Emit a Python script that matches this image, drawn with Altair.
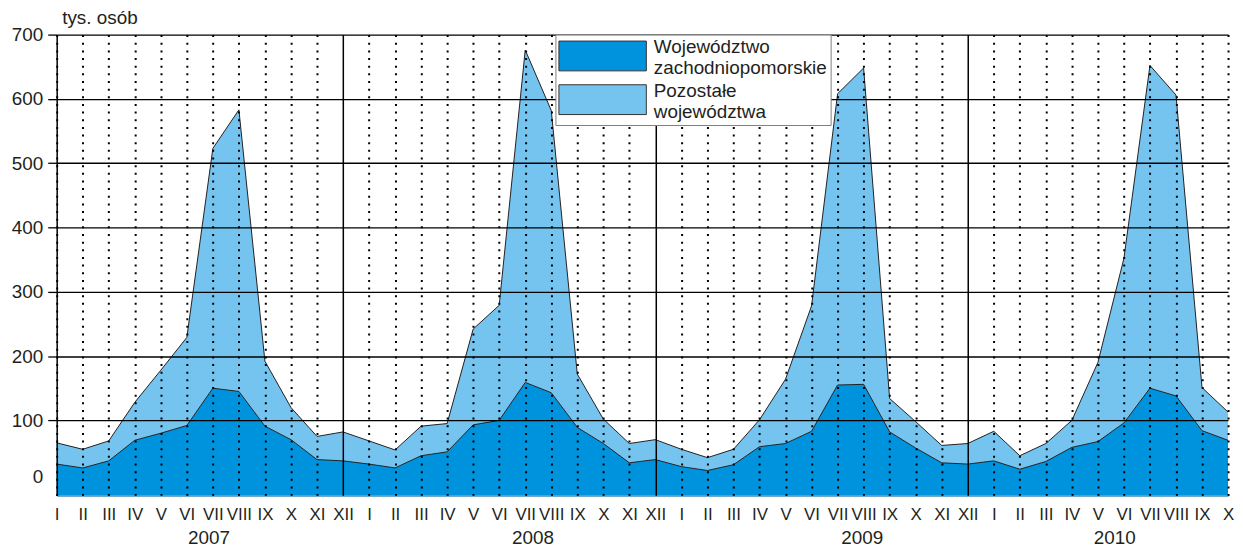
import altair as alt
import pandas as pd

MONTHS = ["I", "II", "III", "IV", "V", "VI", "VII", "VIII", "IX", "X", "XI", "XII"]
YEARS = ["2007", "2008", "2009", "2010"]
YEAR_POS = [5.85, 18.3, 30.95, 40.65]

# thousand persons, monthly 2007-I .. 2010-X
ZACH = [32, 26, 37, 69, 80, 92, 150, 145, 91, 70, 39, 37,
        32, 26, 45, 51, 93, 100, 159, 143, 89, 64, 34, 39,
        28, 22, 31, 59, 64, 83, 155, 156, 82, 57, 34, 32,
        37, 24, 36, 58, 67, 96, 150, 138, 84, 69]
TOTAL = [65, 55, 68, 128, 178, 229, 523, 583, 192, 120, 75, 82,
         68, 54, 91, 95, 242, 279, 676, 582, 172, 102, 64, 70,
         55, 42, 55, 101, 164, 278, 608, 648, 134, 98, 61, 64,
         83, 45, 64, 100, 190, 352, 652, 606, 151, 113]

S1 = "Województwo zachodniopomorskie"
S2 = "Pozostałe województwa"
DARK = "#0093dd"
LIGHT = "#75c4f0"
FONT = "Liberation Sans"
TXT = "#231f20"

W, H = 1179, 464
n = len(TOTAL)
idx = list(range(n))

df_dark = pd.DataFrame({"idx": idx, "top": ZACH, "series": S1})
df_light = pd.DataFrame({"idx": idx, "top": TOTAL, "bottom": ZACH, "series": S2})
df_years = pd.DataFrame({"pos": YEAR_POS, "year": YEARS})

xscale = alt.Scale(domain=[0, n - 1], nice=False, zero=False)
yscale = alt.Scale(domain=[-17, 700], nice=False, zero=False)
cscale = alt.Scale(domain=[S1, S2], range=[DARK, LIGHT])

month_expr = "[" + ",".join(f"'{m}'" for m in MONTHS) + "][datum.value % 12]"

xaxis = alt.Axis(
    values=idx, tickCount=200, labelExpr=month_expr, title=None, tickSize=0,
    domain=True, domainColor="#0a6aa8", domainWidth=1,
    labelFont=FONT, labelFontSize=17, labelColor=TXT, labelPadding=11,
    labelAngle=0, labelFlush=False, labelOverlap=False,
    grid=True, gridColor="#000000",
    gridDash={"condition": {"test": "datum.value % 12 == 11", "value": []}, "value": [2, 5.7]},
    gridWidth={"condition": {"test": "datum.value % 12 == 11", "value": 1.5}, "value": 2},
    zindex=1,
)

yaxis = alt.Axis(
    values=[0, 100, 200, 300, 400, 500, 600, 700], tickCount=20,
    title="tys. osób", titleAngle=0, titleAlign="left", titleBaseline="middle",
    titleX=5, titleY=-17, titleFont=FONT, titleFontSize=19, titleFontWeight="normal",
    titleColor=TXT,
    labelFont=FONT, labelFontSize=19, labelColor=TXT, labelPadding=5,
    labelOffset={"condition": {"test": "datum.value == 0", "value": -8}, "value": 0},
    tickSize=9, tickColor="#000000", tickWidth=1.3,
    tickOpacity={"condition": {"test": "datum.value == 0", "value": 0}, "value": 1},
    domainColor="#000000", domainWidth=1.5,
    grid=True, gridColor="#000000", gridWidth=1.3,
    gridOpacity={"condition": {"test": "datum.value == 0", "value": 0}, "value": 1},
    zindex=1,
)

legend = alt.Legend(
    title=None, orient="none", legendX=502, legendY=0, direction="vertical",
    symbolType="M-1,-0.667L8.778,-0.667L8.778,2.667L-1,2.667Z", symbolSize=324,
    symbolStrokeColor="#333333", symbolStrokeWidth=1, symbolOpacity=1,
    labelExpr="split(datum.label, ' ')", labelFont=FONT, labelFontSize=19,
    labelColor=TXT, labelLimit=400, labelOffset=77, labelBaseline="middle",
    padding=3, rowPadding=3, strokeColor="#808080", fillColor="white",
    zindex=3,
)

color = alt.Color("series:N", scale=cscale, legend=legend)

light_area = alt.Chart(df_light).mark_area(opacity=1, interpolate="linear").encode(
    x=alt.X("idx:Q", scale=xscale, axis=xaxis),
    y=alt.Y("top:Q", scale=yscale, axis=yaxis, stack=False),
    y2="bottom:Q",
    color=color,
)
dark_area = alt.Chart(df_dark).mark_area(opacity=1, interpolate="linear").encode(
    x=alt.X("idx:Q", scale=xscale),
    y=alt.Y("top:Q", scale=yscale, stack=False),
    y2=alt.value(H),
    color=color,
)
line_total = alt.Chart(df_light).mark_line(color="#231f20", strokeWidth=1).encode(
    x=alt.X("idx:Q", scale=xscale), y=alt.Y("top:Q", scale=yscale)
)
line_dark = alt.Chart(df_dark).mark_line(color="#231f20", strokeWidth=1).encode(
    x=alt.X("idx:Q", scale=xscale), y=alt.Y("top:Q", scale=yscale)
)
years = alt.Chart(df_years).mark_text(
    font=FONT, fontSize=19, color=TXT, baseline="middle", align="center"
).encode(x=alt.X("pos:Q", scale=xscale), y=alt.value(507), text="year:N")

chart = alt.layer(light_area, dark_area, line_total, line_dark, years).properties(
    width=W, height=H,
    padding={"left": 49, "top": 25, "right": 7, "bottom": 53},
    autosize=alt.AutoSizeParams(type="none"),
).configure_view(stroke=None)

chart.save("out.html", embed_options={"renderer": "svg", "actions": False})
